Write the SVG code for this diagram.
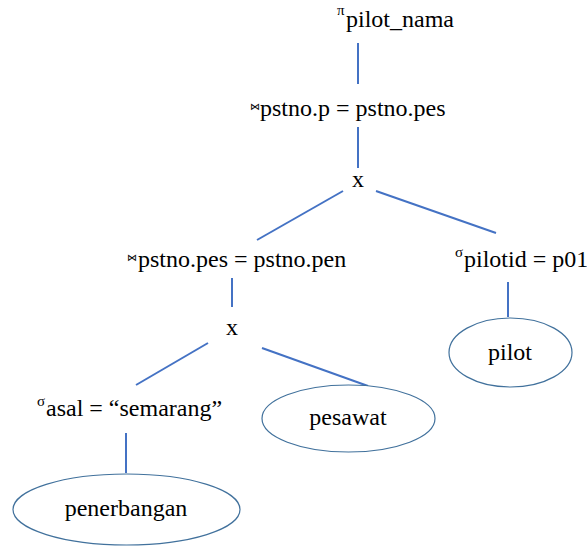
<svg xmlns="http://www.w3.org/2000/svg" width="587" height="547" viewBox="0 0 587 547">
<style>
.t{font-family:'Liberation Serif',Tinos,'Times New Roman',Times,'Nimbus Roman','DejaVu Serif',serif;font-size:24px;fill:#000}
.s{font-family:'Liberation Serif',Tinos,'Times New Roman',Times,'DejaVu Serif',serif;font-size:15px;fill:#000}
.j{font-family:'DejaVu Sans',sans-serif;font-size:10px;fill:#000}
.c{text-anchor:middle}
.e{fill:#fff;stroke:#41719C;stroke-width:1.2}
.l{stroke:#4472C4;stroke-width:2;fill:none}
</style>
<rect width="587" height="547" fill="#fff"/>
<g id="connectors">
<line class="l" x1="358" y1="43" x2="358" y2="84"/>
<line class="l" x1="358" y1="127" x2="358" y2="168"/>
<line class="l" x1="343" y1="191" x2="257" y2="240"/>
<line class="l" x1="376" y1="191" x2="496" y2="233"/>
<line class="l" x1="232" y1="278" x2="232" y2="307"/>
<line class="l" x1="208" y1="343" x2="136" y2="385"/>
<line class="l" x1="262" y1="348" x2="368" y2="386"/>
<line class="l" x1="508" y1="282" x2="508" y2="317"/>
<line class="l" x1="126" y1="433" x2="126" y2="473"/>
</g>
<g id="project">
<text class="s" x="337" y="15">π</text>
<text class="t" x="346" y="27">pilot_nama</text>
</g>
<g id="join1">
<text class="j" x="250" y="110">⋈</text>
<text class="t" x="260" y="116">pstno.p = pstno.pes</text>
</g>
<g id="cross1">
<text class="t c" x="358" y="187">x</text>
</g>
<g id="join2">
<text class="j" x="127" y="261">⋈</text>
<text class="t" x="138" y="267">pstno.pes = pstno.pen</text>
</g>
<g id="select-pilot">
<text class="s" x="455" y="257">σ</text>
<text class="t" x="464" y="267">pilotid = p01</text>
</g>
<g id="cross2">
<text class="t c" x="232" y="335">x</text>
</g>
<g id="select-asal">
<text class="s" x="37" y="406">σ</text>
<text class="t" x="46" y="416">asal = “semarang”</text>
</g>
<g id="pilot">
<ellipse class="e" cx="510.5" cy="352.5" rx="61.5" ry="34.5"/>
<text class="t c" x="510" y="360">pilot</text>
</g>
<g id="pesawat">
<ellipse class="e" cx="348.5" cy="418.5" rx="86.5" ry="33.5"/>
<text class="t c" x="348" y="425">pesawat</text>
</g>
<g id="penerbangan">
<ellipse class="e" cx="126.5" cy="509.5" rx="113.5" ry="35.5"/>
<text class="t c" x="126" y="516">penerbangan</text>
</g>
</svg>
